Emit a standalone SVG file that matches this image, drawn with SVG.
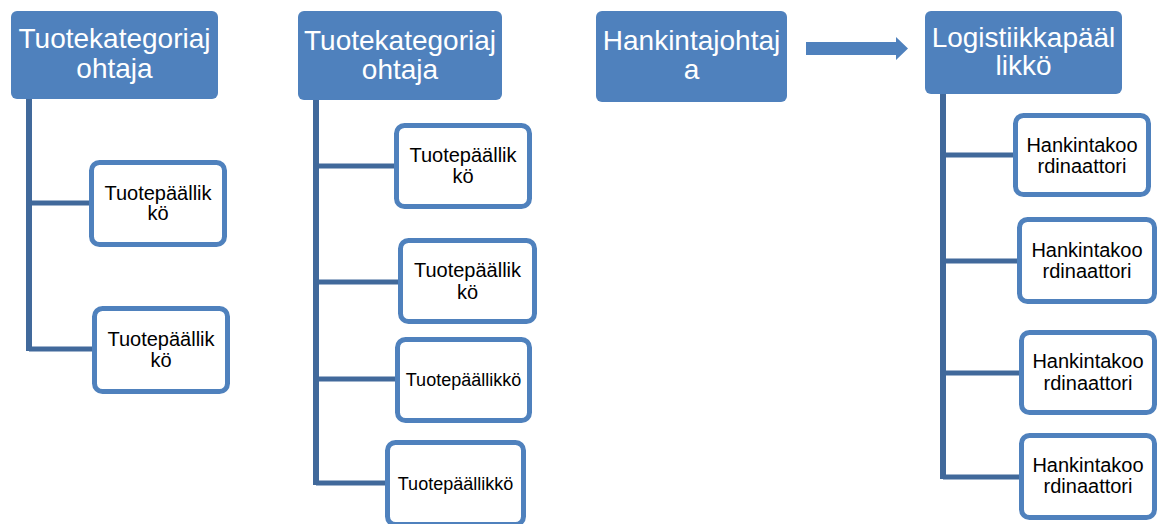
<svg xmlns="http://www.w3.org/2000/svg" width="1159" height="524" viewBox="0 0 1159 524">
<style>
.head{fill:#4f81bd;}
.headt{fill:#ffffff;font-family:"Liberation Sans",Arial,sans-serif;font-size:28px;text-anchor:middle;}
.child{fill:#ffffff;stroke:#4f81bd;stroke-width:5;}
.ct{fill:#000000;font-family:"Liberation Sans",Arial,sans-serif;font-size:20px;text-anchor:middle;}
.cs{fill:#000000;font-family:"Liberation Sans",Arial,sans-serif;font-size:18px;text-anchor:middle;}
.conn{fill:none;stroke:#41699b;stroke-width:6;}
.br{fill:none;stroke:#41699b;stroke-width:5;}
</style>
<rect width="1159" height="524" fill="#ffffff"/>
<g id="connectors">
  <path class="conn" d="M29 99 V351"/>
  <path class="br" d="M29 203 H90 M29 349 H93"/>
  <path class="conn" d="M316 100 V485"/>
  <path class="br" d="M316 166 H395 M316 282 H399 M316 379 H396 M316 483 H386"/>
  <path class="conn" d="M943 94 V479"/>
  <path class="br" d="M943 155 H1014 M943 261 H1018 M943 373 H1020 M943 477 H1020"/>
  <path id="arrow" fill="#4f81bd" d="M806 42 H896 V37 L908 48.5 L896 60 V55 H806 Z"/>
</g>
<g id="n1">
  <rect class="head" x="11" y="11" width="207" height="88" rx="6"/>
  <text class="headt" x="114.5" y="48">Tuotekategoriaj</text>
  <text class="headt" x="114.5" y="78">ohtaja</text>
</g>
<g id="n1c1">
  <rect class="child" x="91.5" y="162.5" width="133" height="82" rx="8"/>
  <text class="ct" x="158" y="200">Tuotepäällik</text>
  <text class="ct" x="158" y="220">kö</text>
</g>
<g id="n1c2">
  <rect class="child" x="94.5" y="308.5" width="133" height="83" rx="8"/>
  <text class="ct" x="161" y="346">Tuotepäällik</text>
  <text class="ct" x="161" y="367">kö</text>
</g>
<g id="n2">
  <rect class="head" x="298" y="11" width="204" height="89" rx="6"/>
  <text class="headt" x="400" y="50">Tuotekategoriaj</text>
  <text class="headt" x="400" y="79">ohtaja</text>
</g>
<g id="n2c1">
  <rect class="child" x="396.5" y="125.5" width="133" height="81" rx="8"/>
  <text class="ct" x="463" y="162">Tuotepäällik</text>
  <text class="ct" x="463" y="183">kö</text>
</g>
<g id="n2c2">
  <rect class="child" x="400.5" y="240.5" width="134" height="81" rx="8"/>
  <text class="ct" x="467.5" y="277">Tuotepäällik</text>
  <text class="ct" x="467.5" y="299">kö</text>
</g>
<g id="n2c3">
  <rect class="child" x="397.5" y="339.5" width="132" height="81" rx="8"/>
  <text class="cs" x="463.5" y="386">Tuotepäällikkö</text>
</g>
<g id="n2c4">
  <rect class="child" x="387.5" y="442.5" width="136" height="82" rx="8"/>
  <text class="cs" x="455.5" y="490">Tuotepäällikkö</text>
</g>
<g id="n3">
  <rect class="head" x="596" y="11" width="191" height="91" rx="6"/>
  <text class="headt" x="691.5" y="50">Hankintajohtaj</text>
  <text class="headt" x="691.5" y="79">a</text>
</g>
<g id="n4">
  <rect class="head" x="925" y="11" width="197" height="83" rx="6"/>
  <text class="headt" x="1023.5" y="47">Logistiikkapääl</text>
  <text class="headt" x="1023.5" y="75">likkö</text>
</g>
<g id="n4c1">
  <rect class="child" x="1015.5" y="115.5" width="133" height="79" rx="8"/>
  <text class="ct" x="1082" y="152">Hankintakoo</text>
  <text class="ct" x="1082" y="173">rdinaattori</text>
</g>
<g id="n4c2">
  <rect class="child" x="1019.5" y="219.5" width="135" height="82" rx="8"/>
  <text class="ct" x="1087" y="257">Hankintakoo</text>
  <text class="ct" x="1087" y="278">rdinaattori</text>
</g>
<g id="n4c3">
  <rect class="child" x="1021.5" y="332.5" width="133" height="80" rx="8"/>
  <text class="ct" x="1088" y="368">Hankintakoo</text>
  <text class="ct" x="1088" y="390">rdinaattori</text>
</g>
<g id="n4c4">
  <rect class="child" x="1021.5" y="435.5" width="133" height="82" rx="8"/>
  <text class="ct" x="1088" y="472">Hankintakoo</text>
  <text class="ct" x="1088" y="493">rdinaattori</text>
</g>
</svg>
